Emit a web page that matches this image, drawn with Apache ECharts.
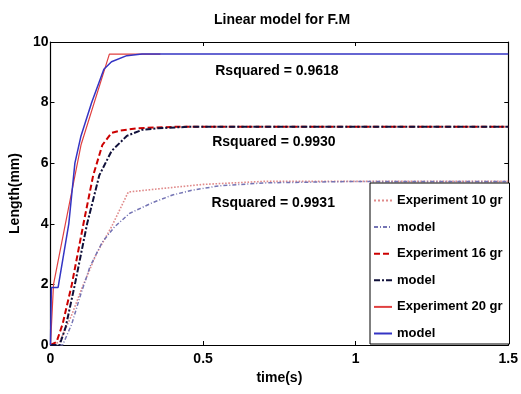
<!DOCTYPE html>
<html>
<head>
<meta charset="utf-8">
<script src="https://cdn.jsdelivr.net/npm/echarts@6/dist/echarts.min.js"></script>
<style>
  html, body { margin: 0; padding: 0; background: #fff; }
  #main { width: 521px; height: 394px; }
</style>
</head>
<body>
<div id="main"></div>
<script>
// ---- data ----
var exp10T   = [0, 0.03, 0.07, 0.10, 0.15, 0.20, 0.255, 0.35, 0.50, 0.70, 1.00, 1.50];
var exp10Y   = [0, 0.1, 1.0, 1.8, 3.0, 3.9, 5.05, 5.15, 5.3, 5.4, 5.4, 5.4];
var mod10T   = [0, 0.04, 0.07, 0.10, 0.13, 0.17, 0.21, 0.26, 0.335, 0.40, 0.46, 0.55, 0.70, 1.00, 1.50];
var mod10Y   = [0, 0, 0.7, 1.7, 2.6, 3.4, 3.9, 4.35, 4.7, 4.95, 5.1, 5.25, 5.35, 5.4, 5.4];

var exp16T   = [0, 0.02, 0.04, 0.07, 0.11, 0.14, 0.17, 0.20, 0.23, 0.28, 0.40, 1.50];
var exp16Y   = [0, 0.1, 0.7, 2.0, 4.1, 5.6, 6.6, 7.0, 7.08, 7.15, 7.2, 7.2];
var mod16T   = [0, 0.03, 0.05, 0.08, 0.12, 0.16, 0.20, 0.25, 0.30, 0.35, 0.45, 1.50];
var mod16Y   = [0, 0, 0.6, 2.0, 4.0, 5.6, 6.4, 6.9, 7.1, 7.15, 7.2, 7.2];

var exp20T   = [0, 0.01, 0.045, 0.10, 0.193, 0.36];
var exp20Y   = [0, 2.0, 3.8, 6.6, 9.6, 9.6];
var mod20T   = [0, 0.003, 0.025, 0.06, 0.08, 0.10, 0.135, 0.175, 0.20, 0.25, 0.30, 1.50];
var mod20Y   = [0, 1.9, 1.9, 4.0, 6.0, 6.9, 8.0, 9.1, 9.35, 9.55, 9.6, 9.6];

var rsqText  = ['Rsquared = 0.9618', 'Rsquared = 0.9930', 'Rsquared = 0.9931'];
var rsqPos   = [[0.742, 9.05], [0.732, 6.68], [0.73, 4.67]];

function pairs(t, y) {
    var out = [];
    for (var i = 0; i < t.length; i++) out.push([t[i], y[i]]);
    return out;
}

var FONT = 'Liberation Sans';

function lineSeries(name, t, y, color, type, width) {
    return {
        name: name,
        type: 'line',
        data: pairs(t, y),
        symbol: 'none',
        smooth: false,
        animation: false,
        lineStyle: { color: color, type: type, width: width },
        itemStyle: { color: color }
    };
}

var chart = echarts.init(document.getElementById('main'));

function axisCommon(pos, showLabel) {
    return {
        type: 'value',
        position: pos,
        axisLine: { show: true, onZero: false, lineStyle: { color: '#000', width: 1.2 } },
        axisTick: { show: true, inside: true, length: 4, lineStyle: { color: '#000' } },
        axisLabel: { show: showLabel, color: '#000', fontFamily: FONT, fontWeight: 'bold', fontSize: 14 },
        splitLine: { show: false }
    };
}

var xBottom = axisCommon('bottom', true);
xBottom.min = 0; xBottom.max = 1.5; xBottom.interval = 0.5;
xBottom.name = 'time(s)';
xBottom.nameLocation = 'middle';
xBottom.nameGap = 26;
xBottom.nameTextStyle = { color: '#000', fontFamily: FONT, fontWeight: 'bold', fontSize: 14 };
xBottom.axisLabel.margin = 7;

var xTop = axisCommon('top', false);
xTop.min = 0; xTop.max = 1.5; xTop.interval = 0.5;

var yLeft = axisCommon('left', true);
yLeft.min = 0; yLeft.max = 10; yLeft.interval = 2;
yLeft.name = 'Length(mm)';
yLeft.nameLocation = 'middle';
yLeft.nameGap = 26;
yLeft.nameTextStyle = { color: '#000', fontFamily: FONT, fontWeight: 'bold', fontSize: 14 };
yLeft.axisLabel.margin = 2;

var yRight = axisCommon('right', false);
yRight.min = 0; yRight.max = 10; yRight.interval = 2;

var option = {
    backgroundColor: '#fff',
    animation: false,
    title: {
        text: 'Linear model for F.M',
        left: 277,
        top: 8,
        textAlign: 'center',
        textStyle: { color: '#000', fontFamily: FONT, fontWeight: 'bold', fontSize: 14 }
    },
    grid: { left: 46, right: 10, top: 42, bottom: 49 },
    xAxis: [xBottom, xTop],
    yAxis: [yLeft, yRight],
    legend: {
        orient: 'vertical',
        left: 370,
        top: 183,
        padding: [11, 7, 4, 3],
        itemWidth: 18,
        itemHeight: 14,
        itemGap: 13.6,
        borderColor: '#000',
        borderWidth: 1,
        backgroundColor: '#fff',
        itemStyle: { opacity: 0 },
        formatter: function (n) { return n.split('#')[0]; },
        textStyle: { color: '#000', fontFamily: FONT, fontWeight: 'bold', fontSize: 13 }
    },
    series: [
        lineSeries('Experiment 10 gr', exp10T, exp10Y, '#e08a8a', 'dotted', 1.6),
        lineSeries('model#10', mod10T, mod10Y, '#7474b4', [4, 2, 1, 2], 1.5),
        lineSeries('Experiment 16 gr', exp16T, exp16Y, '#cc0000', [6, 3], 2),
        lineSeries('model#16', mod16T, mod16Y, '#10103a', [6, 2, 2, 2], 2),
        lineSeries('Experiment 20 gr', exp20T, exp20Y, '#e04040', 'solid', 1.2),
        lineSeries('model#20', mod20T, mod20Y, '#3434c4', 'solid', 1.5)
    ]
};

chart.setOption(option);

// R-squared annotations anchored in data space
var g = [];
for (var i = 0; i < rsqText.length; i++) {
    var p = chart.convertToPixel({ xAxisIndex: 0, yAxisIndex: 0 }, rsqPos[i]);
    g.push({
        type: 'text',
        x: p[0], y: p[1],
        style: {
            text: rsqText[i],
            fill: '#000',
            font: 'bold 14px "' + FONT + '"',
            align: 'center',
            verticalAlign: 'middle'
        },
        z: 10
    });
}
chart.setOption({ graphic: g });
</script>
</body>
</html>
